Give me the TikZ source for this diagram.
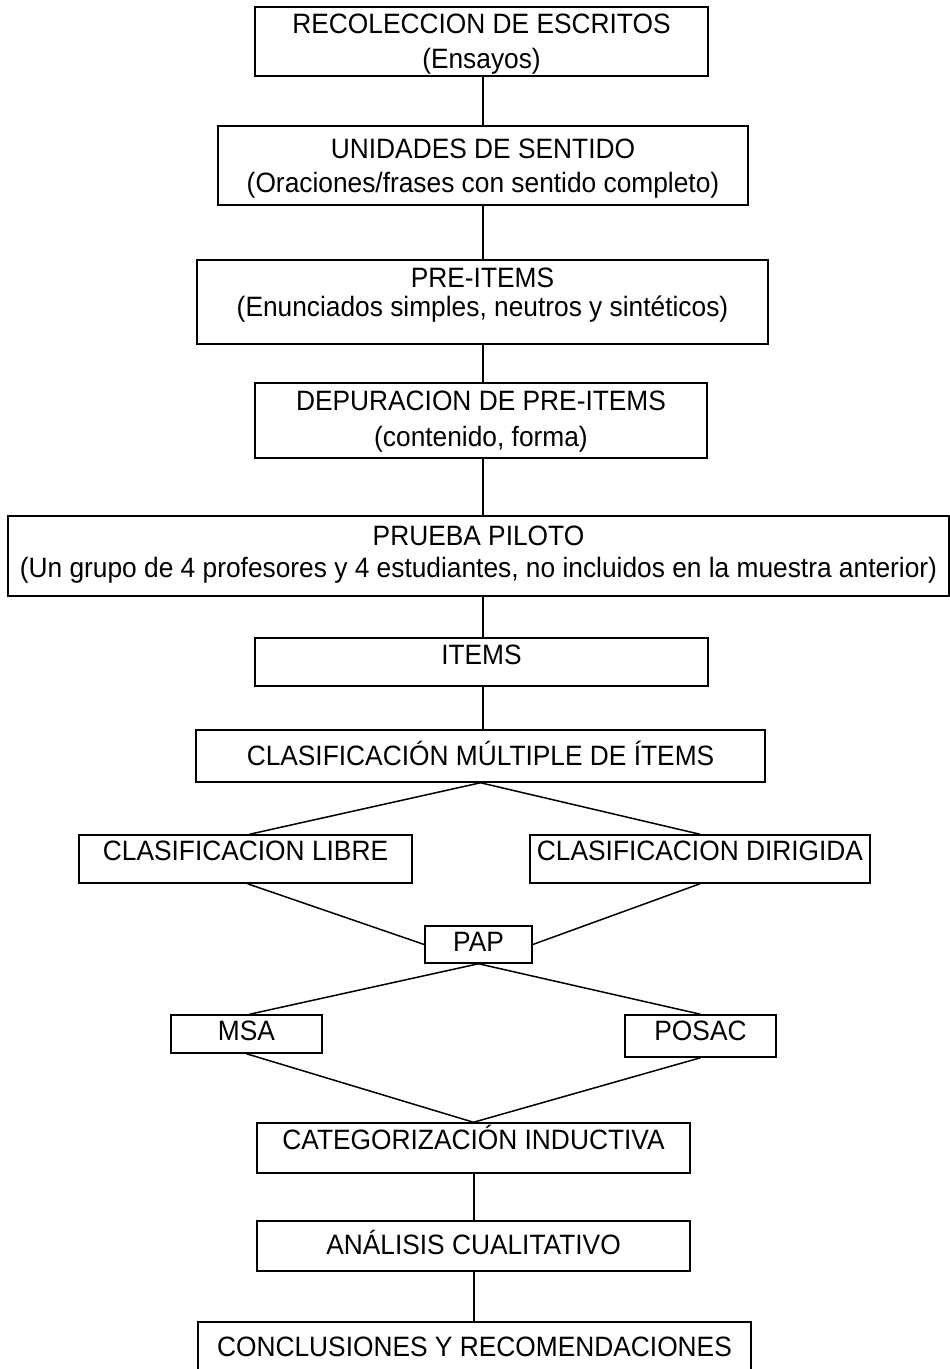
\documentclass[tikz,border=0pt]{standalone}
\usepackage{fontspec}
\setmainfont{Liberation Sans}
\usepackage{graphicx}
\newcommand{\hs}[1]{\scalebox{0.94}[1]{#1}}
\begin{document}
\begin{tikzpicture}[x=1pt,y=-1pt,
  box/.style={draw=black, line width=1.5pt, inner sep=0pt},
  txt/.style={inner sep=0pt, anchor=base, font=\fontsize{28}{30}\selectfont},
  link/.style={draw=black, line width=1.5pt}]
\clip (0,0) rectangle (950,1369);
\fill[white] (0,0) rectangle (950,1369);
% boxes
\node[box, minimum width=453pt, minimum height=69pt] (rec) at (481.5,41.5) {};
\node[box, minimum width=530pt, minimum height=79pt] (uni) at (483,165.5) {};
\node[box, minimum width=571pt, minimum height=84pt] (pre) at (482.5,302) {};
\node[box, minimum width=452pt, minimum height=75pt] (dep) at (481,420.5) {};
\node[box, minimum width=941pt, minimum height=80pt] (pru) at (478.5,556) {};
\node[box, minimum width=453pt, minimum height=48pt] (ite) at (481.5,662) {};
\node[box, minimum width=569pt, minimum height=52pt] (clm) at (480.5,756) {};
\node[box, minimum width=333pt, minimum height=48pt] (lib) at (245.5,859) {};
\node[box, minimum width=340pt, minimum height=48pt] (dir) at (700,859) {};
\node[box, minimum width=107pt, minimum height=37pt] (pap) at (478.5,944.5) {};
\node[box, minimum width=151pt, minimum height=38pt] (msa) at (246.5,1034) {};
\node[box, minimum width=151pt, minimum height=42pt] (pos) at (700.5,1036) {};
\node[box, minimum width=433pt, minimum height=50pt] (cat) at (473.5,1148) {};
\node[box, minimum width=433pt, minimum height=50pt] (ana) at (473.5,1246) {};
\node[box, minimum width=553pt, minimum height=56pt] (con) at (474.5,1350) {};
% texts
\node[txt] (rec1) at (481.5,33) {\hs{RECOLECCION DE ESCRITOS}};
\node[txt] (rec2) at (481.5,68) {\hs{(Ensayos)}};
\node[txt] (uni1) at (483,158) {\hs{UNIDADES DE SENTIDO}};
\node[txt] (uni2) at (483,192) {\hs{(Oraciones/frases con sentido completo)}};
\node[txt] (pre1) at (482.5,287) {\hs{PRE-ITEMS}};
\node[txt] (pre2) at (482.5,316) {\hs{(Enunciados simples, neutros y sintéticos)}};
\node[txt] (dep1) at (481,410) {\hs{DEPURACION DE PRE-ITEMS}};
\node[txt] (dep2) at (481,446) {\hs{(contenido, forma)}};
\node[txt] (pru1) at (478.5,545) {\hs{PRUEBA PILOTO}};
\node[txt] (pru2) at (478.5,577) {\hs{(Un grupo de 4 profesores y 4 estudiantes, no incluidos en la muestra anterior)}};
\node[txt] (ite1) at (481.5,664) {\hs{ITEMS}};
\node[txt] (clm1) at (480.5,765) {\hs{CLASIFICACIÓN MÚLTIPLE DE ÍTEMS}};
\node[txt] (lib1) at (245.5,860) {\hs{CLASIFICACION LIBRE}};
\node[txt] (dir1) at (700,860) {\hs{CLASIFICACION DIRIGIDA}};
\node[txt] (pap1) at (478.5,951) {\hs{PAP}};
\node[txt] (msa1) at (246.5,1040) {\hs{MSA}};
\node[txt] (pos1) at (700.5,1040) {\hs{POSAC}};
\node[txt] (cat1) at (473.5,1149) {\hs{CATEGORIZACIÓN INDUCTIVA}};
\node[txt] (ana1) at (473.5,1254) {\hs{ANÁLISIS CUALITATIVO}};
\node[txt] (con1) at (474.5,1356) {\hs{CONCLUSIONES Y RECOMENDACIONES}};
% connectors
\coordinate (vx) at (483,0);
\coordinate (vy) at (474,0);
\draw[link] (rec.south -| vx) -- (uni.north -| vx);
\draw[link] (uni.south -| vx) -- (pre.north -| vx);
\draw[link] (pre.south -| vx) -- (dep.north -| vx);
\draw[link] (dep.south -| vx) -- (pru.north -| vx);
\draw[link] (pru.south -| vx) -- (ite.north -| vx);
\draw[link] (ite.south -| vx) -- (clm.north -| vx);
\draw[link] (clm.south) -- ([xshift=4pt]lib.north);
\draw[link] (clm.south) -- (dir.north);
\draw[link] ([xshift=2pt]lib.south) -- (pap.west);
\draw[link] (dir.south) -- (pap.east);
\draw[link] (pap.south) -- ([xshift=3pt]msa.north);
\draw[link] (pap.south) -- (pos.north);
\draw[link] (msa.south) -- (cat.north);
\draw[link] (pos.south) -- (cat.north);
\draw[link] (cat.south -| vy) -- (ana.north -| vy);
\draw[link] (ana.south -| vy) -- (con.north -| vy);
\end{tikzpicture}
\end{document}
